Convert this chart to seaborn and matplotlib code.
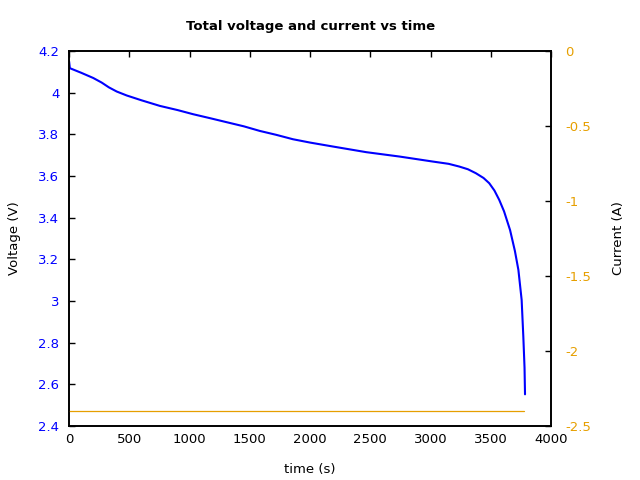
import matplotlib
matplotlib.use("Agg")
import matplotlib.pyplot as plt
import pandas as pd
import seaborn as sns

# Discharge data
time_s = [0, 6, 100, 200, 270, 330, 395, 478, 600, 753, 900, 1030, 1170, 1306, 1450,
          1582, 1720, 1858, 2000, 2190, 2466, 2742, 3018, 3150, 3238, 3310, 3376,
          3440, 3487, 3530, 3570, 3610, 3660, 3700, 3729, 3756, 3770, 3780, 3784]
voltage_v = [4.149, 4.117, 4.095, 4.07, 4.048, 4.025, 4.005, 3.986, 3.963, 3.936,
             3.916, 3.896, 3.877, 3.858, 3.838, 3.816, 3.797, 3.776, 3.76, 3.741,
             3.714, 3.693, 3.669, 3.658, 3.645, 3.632, 3.613, 3.59, 3.565, 3.53,
             3.485, 3.43, 3.34, 3.24, 3.149, 3.005, 2.828, 2.68, 2.552]
current_time_s = [0, 3776]
current_a = [-2.4, -2.4]

volt = pd.DataFrame({"time": time_s, "voltage": voltage_v})
curr = pd.DataFrame({"time": current_time_s, "current": current_a})

sns.set_style("white")
plt.rcParams["font.family"] = ["DejaVu Sans"]
plt.rcParams["axes.unicode_minus"] = False
plt.rcParams["text.color"] = "black"
plt.rcParams["axes.labelcolor"] = "black"

blue = "#0000ff"
orange = "#e69f00"

fig = plt.figure(figsize=(6.4, 4.8), dpi=100)
ax1 = fig.add_axes([0.108, 0.1125, 0.753, 0.7815])
ax2 = ax1.twinx()

sns.lineplot(data=volt, x="time", y="voltage", ax=ax1, color=blue, linewidth=1.5)
sns.lineplot(data=curr, x="time", y="current", ax=ax2, color=orange, linewidth=0.9)

ax1.set_xlim(0, 4000)
ax1.set_ylim(2.4, 4.2)
ax2.set_ylim(-2.5, 0)

ax1.set_xticks(range(0, 4001, 500))
yt = [2.4, 2.6, 2.8, 3.0, 3.2, 3.4, 3.6, 3.8, 4.0, 4.2]
ax1.set_yticks(yt)
ax1.set_yticklabels(["%g" % v for v in yt])
y2t = [0, -0.5, -1, -1.5, -2, -2.5]
ax2.set_yticks(y2t)
ax2.set_yticklabels(["%g" % v for v in y2t])

for ax in (ax1, ax2):
    for s in ax.spines.values():
        s.set_color("black")
        s.set_linewidth(1.2)

ax1.tick_params(axis="x", direction="in", length=4.5, width=1, top=True,
                labelsize=9.5, pad=5, colors="black")
ax1.tick_params(axis="y", direction="in", length=4.5, width=1, left=True,
                labelsize=9.5, pad=7, labelcolor=blue, color="black")
ax2.tick_params(axis="y", direction="in", length=4.5, width=1, right=True,
                labelsize=9.5, pad=10, labelcolor=orange, color="black")
for lab in ax2.get_yticklabels():
    lab.set_horizontalalignment("left")

ax1.set_xlabel("time (s)", fontsize=9.5, color="black")
ax1.set_ylabel("Voltage (V)", fontsize=9.5, color="black")
ax2.set_ylabel("Current (A)", fontsize=9.5, color="black")
ax1.xaxis.set_label_coords(0.5, -0.099)
ax1.yaxis.set_label_coords(-0.0995, 0.5)
ax2.yaxis.set_label_coords(1.1266, 0.5)

ax1.set_title("Total voltage and current vs time", fontsize=9.5,
              fontweight="bold", color="black", y=1.033)

fig.savefig("out.png", dpi=100)
